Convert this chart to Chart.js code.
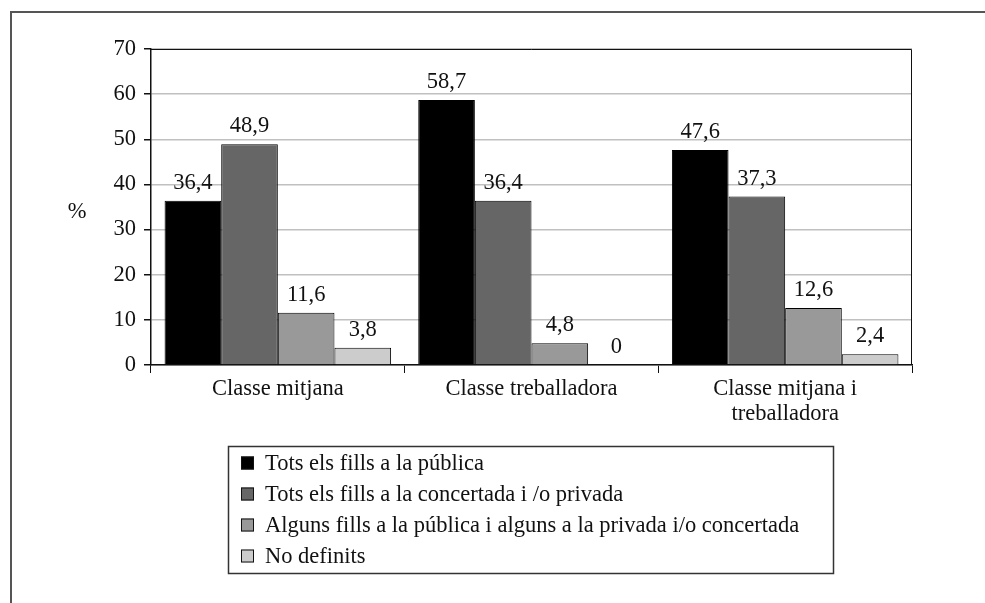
<!DOCTYPE html>
<html>
<head>
<meta charset="utf-8">
<script src="https://cdn.jsdelivr.net/npm/chart.js@4.4.1/dist/chart.umd.min.js"></script>
<style>
  body { margin: 0; background: #fff; }
  #wrap { position: relative; width: 985px; height: 603px; overflow: hidden; }
  #frame { position: absolute; left: 10px; top: 11px; width: 1200px; height: 900px;
           border-left: 2px solid #555; border-top: 2px solid #555; }
  canvas { position: absolute; left: 0; top: 0; }
</style>
</head>
<body>
<div id="wrap">
  <div id="frame"></div>
  <canvas id="chart" width="985" height="603"></canvas>
</div>
<script>
const categories = ['Classe mitjana', 'Classe treballadora', ['Classe mitjana i', 'treballadora']]
const seriesNames = [
  'Tots els fills a la pública',
  'Tots els fills a la concertada i /o privada',
  'Alguns fills a la pública i alguns a la privada i/o concertada',
  'No definits'
]
const publica = [36.4, 58.7, 47.6]
const concertada = [48.9, 36.4, 37.3]
const mixta = [11.6, 4.8, 12.6]
const noDefinits = [3.8, 0, 2.4]
const yTicks = [0, 10, 20, 30, 40, 50, 60, 70]

const colors = ['#000000', '#666666', '#999999', '#cccccc']
const FONT = "'Liberation Serif', 'Times New Roman', serif"
const SIZE = 22.5

Chart.defaults.font.family = FONT
Chart.defaults.font.size = SIZE
Chart.defaults.color = '#111'

const seriesData = [publica, concertada, mixta, noDefinits]

// labels on top of each bar, comma decimals
const valueLabels = {
  id: 'valueLabels',
  afterDatasetsDraw(chart) {
    const ctx = chart.ctx
    ctx.save()
    ctx.font = `${SIZE}px ${FONT}`
    ctx.fillStyle = '#111'
    ctx.textAlign = 'center'
    ctx.textBaseline = 'alphabetic'
    chart.data.datasets.forEach((ds, di) => {
      chart.getDatasetMeta(di).data.forEach((bar, i) => {
        const txt = String(ds.data[i]).replace('.', ',')
        ctx.fillText(txt, bar.x, bar.y - 12)
      })
    })
    ctx.restore()
  }
}

// plot frame, % label and boxed legend
const extras = {
  id: 'extras',
  afterDraw(chart) {
    const ctx = chart.ctx
    const a = chart.chartArea
    ctx.save()
    ctx.strokeStyle = '#111'
    ctx.lineWidth = 1
    ctx.beginPath()
    ctx.moveTo(a.left, a.top + 0.5)
    ctx.lineTo(a.right - 0.5, a.top + 0.5)
    ctx.lineTo(a.right - 0.5, a.bottom)
    ctx.stroke()

    ctx.font = `${SIZE}px ${FONT}`
    ctx.fillStyle = '#111'
    ctx.textAlign = 'center'
    ctx.textBaseline = 'middle'
    ctx.fillText('%', 77, 212)

    // legend
    const lx = 228, ly = 446, lw = 605, lh = 127
    ctx.strokeStyle = '#333'
    ctx.lineWidth = 1.5
    ctx.strokeRect(lx + 0.5, ly + 0.5, lw, lh)
    ctx.textAlign = 'left'
    chart.data.datasets.forEach((ds, i) => {
      const cy = 463 + i * 31
      ctx.fillStyle = ds.backgroundColor
      ctx.fillRect(241, cy - 6.5, 13, 13)
      ctx.strokeStyle = '#111'
      ctx.lineWidth = 1
      ctx.strokeRect(241.5, cy - 6, 12, 12)
      ctx.fillStyle = '#111'
      ctx.fillText(ds.label, 265, cy + 1)
    })
    ctx.restore()
  }
}

new Chart(document.getElementById('chart'), {
  type: 'bar',
  data: {
    labels: categories,
    datasets: seriesNames.map((name, i) => ({
      label: name,
      data: seriesData[i],
      backgroundColor: colors[i],
      borderColor: '#000',
      borderWidth: 1,
      barPercentage: 1,
      categoryPercentage: 0.893
    }))
  },
  options: {
    responsive: false,
    animation: false,
    layout: { padding: { left: 0, top: 49, right: 73, bottom: 178 } },
    plugins: { legend: { display: false }, tooltip: { enabled: false } },
    scales: {
      x: {
        afterFit(s) { s.height = 60 },
        grid: { offset: true, drawOnChartArea: false, tickLength: 8, tickColor: '#111' },
        border: { color: '#111', width: 1.5 },
        ticks: { padding: 3, color: '#111', font: { size: SIZE, lineHeight: 1.12 } }
      },
      y: {
        min: 0,
        max: 70,
        afterFit(s) { s.width = 151 },
        afterBuildTicks(s) { s.ticks = yTicks.map(v => ({ value: v })) },
        grid: { color: '#c0c0c0', lineWidth: 1.5, tickColor: '#111', tickLength: 7 },
        border: { color: '#111', width: 1.5 },
        ticks: { padding: 8, color: '#111' }
      }
    }
  },
  plugins: [valueLabels, extras]
})
</script>
</body>
</html>
